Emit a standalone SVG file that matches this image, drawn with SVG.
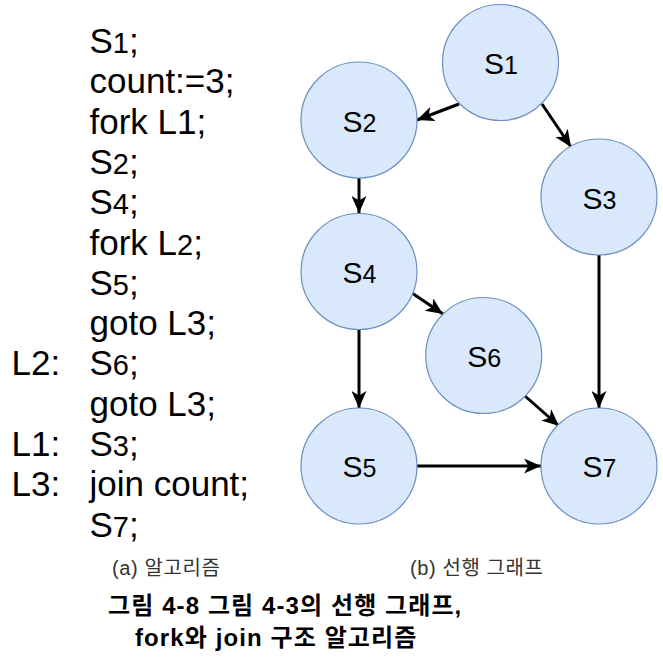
<svg xmlns="http://www.w3.org/2000/svg" width="663" height="659" viewBox="0 0 663 659">
<defs>
<style>
.code{font-family:"Liberation Sans",Arial,sans-serif;font-size:35px;fill:#000}
.sub{font-size:29px}
.node circle{fill:#dae8fc;stroke:#6c8ebf;stroke-width:1.2}
.node text{font-family:"Liberation Sans",Arial,sans-serif;font-size:30px;fill:#000;text-anchor:middle}
.node .d{font-size:25px}
.edge{stroke:#000;stroke-width:3;fill:none;marker-end:url(#arr)}
.cap{font-family:"Liberation Sans","Noto Sans CJK KR",sans-serif;font-size:20px;letter-spacing:0.6px;fill:#333}
.title{font-family:"Liberation Sans","Noto Sans CJK KR",sans-serif;font-size:24px;letter-spacing:1.1px;font-weight:bold;fill:#000}
</style>
<marker id="arr" markerUnits="userSpaceOnUse" markerWidth="18" markerHeight="15" refX="17" refY="7.5" orient="auto">
<path d="M0,0 L17,7.5 L0,15 L4.5,7.5 Z" fill="#000"/>
</marker>
</defs>
<rect width="663" height="659" fill="#fff"/>
<g id="code">
<text class="code" x="89.5" y="53">S<tspan class="sub">1</tspan>;</text>
<text class="code" x="89.5" y="93.3">count:=3;</text>
<text class="code" x="89.5" y="133.6">fork L1;</text>
<text class="code" x="89.5" y="173.9">S<tspan class="sub">2</tspan>;</text>
<text class="code" x="89.5" y="214.2">S<tspan class="sub">4</tspan>;</text>
<text class="code" x="89.5" y="254.5">fork L<tspan class="sub">2</tspan>;</text>
<text class="code" x="89.5" y="294.8">S<tspan class="sub">5</tspan>;</text>
<text class="code" x="89.5" y="335.1">goto L3;</text>
<text class="code" x="11.5" y="375.4">L2:</text>
<text class="code" x="89.5" y="375.4">S<tspan class="sub">6</tspan>;</text>
<text class="code" x="89.5" y="415.7">goto L3;</text>
<text class="code" x="11.5" y="456">L1:</text>
<text class="code" x="89.5" y="456">S<tspan class="sub">3</tspan>;</text>
<text class="code" x="11.5" y="496.3">L3:</text>
<text class="code" x="89.5" y="496.3">join count;</text>
<text class="code" x="89.5" y="536.6">S<tspan class="sub">7</tspan>;</text>
</g>
<g id="connectors">
<path class="edge" d="M459,104 L417,120"/>
<path class="edge" d="M542,104 L571,147"/>
<path class="edge" d="M359,178 L359,213"/>
<path class="edge" d="M412,293 L443,314"/>
<path class="edge" d="M359,330 L359,408"/>
<path class="edge" d="M599,255 L599,408"/>
<path class="edge" d="M525,396 L559,426"/>
<path class="edge" d="M417,466 L541,466"/>
</g>
<g id="S1" class="node"><circle cx="500.5" cy="62.5" r="58"/><text x="501" y="74">S<tspan class="d">1</tspan></text></g>
<g id="S2" class="node"><circle cx="359" cy="120" r="58"/><text x="359.5" y="131.5">S<tspan class="d">2</tspan></text></g>
<g id="S3" class="node"><circle cx="599" cy="197" r="58"/><text x="599.5" y="208.5">S<tspan class="d">3</tspan></text></g>
<g id="S4" class="node"><circle cx="359" cy="271.5" r="58"/><text x="359.5" y="283">S<tspan class="d">4</tspan></text></g>
<g id="S6" class="node"><circle cx="483.7" cy="355.5" r="58"/><text x="484.2" y="367">S<tspan class="d">6</tspan></text></g>
<g id="S5" class="node"><circle cx="359" cy="466" r="58"/><text x="359.5" y="477.3">S<tspan class="d">5</tspan></text></g>
<g id="S7" class="node"><circle cx="599" cy="466" r="58"/><text x="599.5" y="477.3">S<tspan class="d">7</tspan></text></g>
<g id="captions">
<text class="cap" x="112" y="575">(a) 알고리즘</text>
<text class="cap" x="410" y="575">(b) 선행 그래프</text>
<text class="title" x="108" y="614">그림 4-8 그림 4-3의 선행 그래프,</text>
<text class="title" x="135" y="646">fork와 join 구조 알고리즘</text>
</g>
</svg>
